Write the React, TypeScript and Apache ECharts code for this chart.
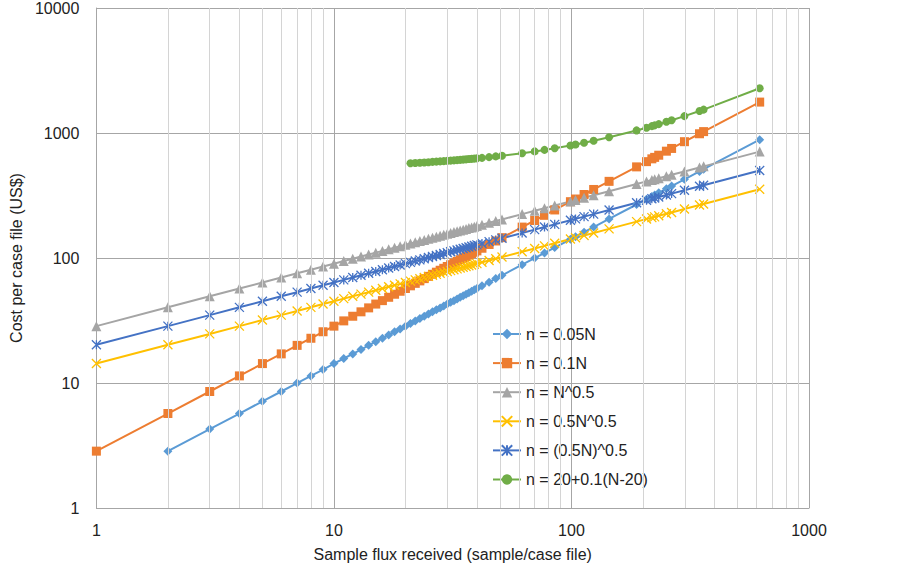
import React, { useEffect, useRef } from 'react';
import * as echarts from 'echarts';

// Sample flux values N (x) shared by every series
const xs = [1,2,3,4,5,6,7,8,9,10,11,12,13,14,15,16,17,18,19,20,21,22,23,24,25,26,27,28,29,30,31,32,33,34,35,36,37,38,39,40,42,45,48,51,62,70,77,85,99,104,113,124,144,188,207,218,224,233,251,264,299,346,360,620];

// n = 0.05N (starts at N = 2)
const yN005 = [2.85,4.28,5.7,7.13,8.55,9.98,11.4,12.8,14.3,15.7,17.1,18.5,20.0,21.4,22.8,24.2,25.7,27.1,28.5,29.9,31.4,32.8,34.2,35.6,37.1,38.5,39.9,41.3,42.8,44.2,45.6,47.0,48.5,49.9,51.3,52.7,54.2,55.6,57.0,59.9,64.1,68.4,72.7,88.4,99.8,109.7,121.1,141.1,148.2,161.0,176.7,205.2,267.9,295.0,310.7,319.2,332.0,357.7,376.2,426.1,493.1,513.0,883.5];
// n = 0.1N
const yN01 = [2.85,5.7,8.55,11.4,14.3,17.1,20.0,22.8,25.7,28.5,31.4,34.2,37.1,39.9,42.8,45.6,48.5,51.3,54.2,57.0,59.9,62.7,65.6,68.4,71.3,74.1,77.0,79.8,82.7,85.5,88.4,91.2,94.1,96.9,99.8,102.6,105.5,108.3,111.2,114.0,119.7,128.3,136.8,145.4,176.7,199.5,219.5,242.3,282.2,296.4,322.1,353.4,410.4,535.8,590.0,621.3,638.4,664.1,715.4,752.4,852.2,986.1,1026,1767];
// n = N^0.5
const ySqrt = [28.5,40.3,49.4,57.0,63.7,69.8,75.4,80.6,85.5,90.1,94.5,98.7,102.8,106.6,110.4,114.0,117.5,120.9,124.2,127.5,130.6,133.7,136.7,139.6,142.5,145.3,148.1,150.8,153.5,156.1,158.7,161.2,163.7,166.2,168.6,171.0,173.4,175.7,178.0,180.3,184.7,191.2,197.5,203.5,224.4,238.4,250.1,262.8,283.6,290.6,303.0,317.4,342.0,390.8,410.0,420.8,426.6,435.0,451.5,463.1,492.8,530.1,540.8,709.7];
// n = 0.5N^0.5
const yHalfSqrt = [14.3,20.2,24.7,28.5,31.9,34.9,37.7,40.3,42.8,45.1,47.3,49.4,51.4,53.3,55.2,57.0,58.8,60.5,62.1,63.7,65.3,66.8,68.3,69.8,71.3,72.7,74.0,75.4,76.7,78.1,79.3,80.6,81.9,83.1,84.3,85.5,86.7,87.8,89.0,90.1,92.4,95.6,98.7,101.8,112.2,119.2,125.0,131.4,141.8,145.3,151.5,158.7,171.0,195.4,205.0,210.4,213.3,217.5,225.8,231.5,246.4,265.1,270.4,354.8];
// n = (0.5N)^0.5
const ySqrtHalf = [20.2,28.5,34.9,40.3,45.1,49.4,53.3,57.0,60.5,63.7,66.8,69.8,72.7,75.4,78.0,80.6,83.1,85.5,87.8,90.1,92.3,94.5,96.6,98.7,100.8,102.7,104.7,106.6,108.5,110.4,112.2,114.0,115.8,117.5,119.2,120.9,122.6,124.2,125.8,127.4,130.6,135.2,139.6,143.9,158.7,168.6,176.8,185.8,200.5,205.5,214.2,224.4,241.8,276.3,289.9,297.5,301.6,307.6,319.2,327.4,348.4,374.8,382.3,501.7];
// n = 20+0.1(N-20) (starts at N = 21)
const yLinear20 = [572.9,575.7,578.6,581.4,584.3,587.1,590.0,592.8,595.7,598.5,601.4,604.2,607.1,609.9,612.8,615.6,618.5,621.3,624.2,627.0,632.7,641.3,649.8,658.4,689.7,712.5,732.5,755.3,795.2,809.4,835.1,866.4,923.4,1048.8,1103.0,1134.3,1151.4,1177.1,1228.4,1265.4,1365.2,1499.1,1539.0,2280];

const seriesNames = ['n = 0.05N', 'n = 0.1N', 'n = N^0.5', 'n = 0.5N^0.5', 'n = (0.5N)^0.5', 'n = 20+0.1(N-20)'];
const minorX = [2,3,4,5,6,7,8,9,20,30,40,50,60,70,80,90,200,300,400,500,600,700,800,900];

const pair = (xsub: number[], ys: number[]) => ys.map((y, i) => [xsub[i], y]);

export default function App() {
  const ref = useRef<HTMLDivElement>(null);
  useEffect(() => {
    const chart = echarts.init(ref.current!, null, { renderer: 'svg' });
    const txt = '#222222';
    const font = 'Liberation Sans, Arial, sans-serif';
    const mk = (name: string, data: number[][], color: string, symbol: string, size: number, stroke = false) => ({
      name,
      type: 'line',
      data,
      z: 3,
      color,
      symbol,
      symbolSize: size,
      showAllSymbol: true,
      lineStyle: { color, width: 2 },
      itemStyle: stroke
        ? { color, borderColor: color, borderWidth: 1.3 }
        : { color, borderWidth: 0 },
    });
    chart.setOption({
      animation: false,
      textStyle: { fontFamily: font },
      grid: { left: 92, top: 7, right: 94, bottom: 59 },
      legend: {
        data: seriesNames,
        orient: 'vertical',
        left: 487,
        top: 321,
        itemWidth: 28,
        itemHeight: 13,
        itemGap: 13.1,
        textStyle: { fontSize: 16, color: txt, fontFamily: font },
      },
      xAxis: {
        type: 'log',
        logBase: 10,
        min: 1,
        max: 1000,
        name: 'Sample flux received (sample/case file)',
        nameLocation: 'middle',
        nameGap: 38,
        nameTextStyle: { fontSize: 16, color: txt, fontFamily: font },
        axisLine: { show: true, onZero: false, lineStyle: { color: '#A6A6A6', width: 1 } },
        axisTick: { show: false },
        axisLabel: { fontSize: 16, color: txt, margin: 14, formatter: (v: number) => String(Math.round(v)) },
        splitLine: { show: true, lineStyle: { color: '#A6A6A6', width: 1 } },
      },
      yAxis: {
        type: 'log',
        logBase: 10,
        min: 1,
        max: 10000,
        name: 'Cost per case file (US$)',
        nameLocation: 'middle',
        nameGap: 64,
        nameTextStyle: { fontSize: 16, color: txt, fontFamily: font },
        axisLine: { show: true, onZero: false, lineStyle: { color: '#A6A6A6', width: 1 } },
        axisTick: { show: false },
        axisLabel: { fontSize: 16, color: txt, margin: 17, formatter: (v: number) => String(Math.round(v)) },
        splitLine: { show: true, lineStyle: { color: '#A6A6A6', width: 1 } },
      },
      series: [
        {
          name: 'minor',
          type: 'line',
          data: [[1, 1]],
          showSymbol: false,
          symbol: 'none',
          lineStyle: { width: 0 },
          z: 1,
          silent: true,
          markLine: {
            silent: true,
            symbol: ['none', 'none'],
            label: { show: false },
            lineStyle: { color: '#D4D4D4', width: 1, type: 'solid' },
            data: minorX.map((v) => ({ xAxis: v })),
          },
        },
        mk(seriesNames[0], pair(xs.slice(1), yN005), '#5B9BD5', 'diamond', 9),
        mk(seriesNames[1], pair(xs, yN01), '#ED7D31', 'rect', 9),
        mk(seriesNames[2], pair(xs, ySqrt), '#A5A5A5', 'triangle', 10),
        mk(seriesNames[3], pair(xs, yHalfSqrt), '#FFC000', 'path://M0,0L10,10M10,0L0,10', 9, true),
        mk(seriesNames[4], pair(xs, ySqrtHalf), '#4472C4', 'path://M0,0L10,10M10,0L0,10M5,0L5,10', 9, true),
        mk(seriesNames[5], pair(xs.slice(20), yLinear20), '#70AD47', 'circle', 8),
      ],
    });
    return () => chart.dispose();
  }, []);
  return (
    <div
      ref={ref}
      style={{ position: 'fixed', left: 0, top: 0, width: 903, height: 567, background: '#fff' }}
    />
  );
}
